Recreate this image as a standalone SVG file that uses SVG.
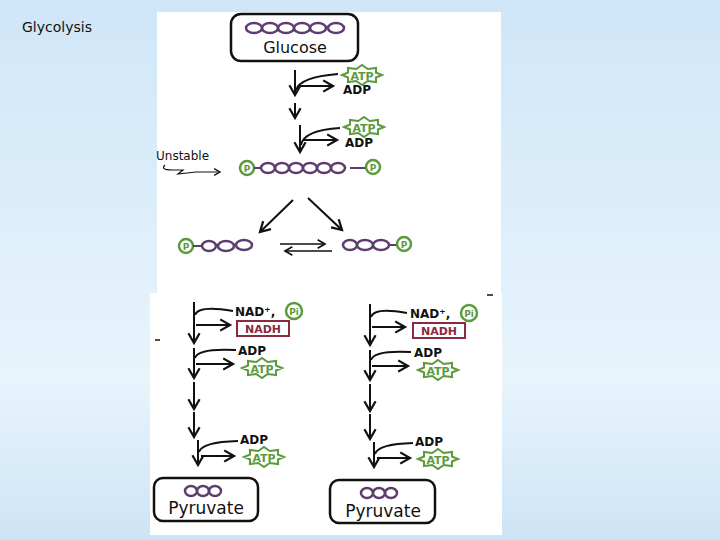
<svg xmlns="http://www.w3.org/2000/svg" width="720" height="540" viewBox="0 0 720 540">
<defs>
<linearGradient id="bg" x1="0" y1="0" x2="0" y2="1">
<stop offset="0" stop-color="#cfe6f8"/><stop offset="0.7" stop-color="#e8f4fc"/><stop offset="1" stop-color="#cde4f6"/>
</linearGradient>
<marker id="ah" viewBox="0 0 10 10" refX="8" refY="5" markerWidth="7" markerHeight="7" orient="auto-start-reverse"><path d="M1,1 L8,5 L1,9" fill="none" stroke="#111" stroke-width="1.6"/></marker>
<g id="atp"><polygon points="20,0 13.9,2.5 14.1,7.1 5.7,6 0,10 -5.7,6 -14.1,7.1 -13.9,2.5 -20,0 -13.9,-2.5 -14.1,-7.1 -5.7,-6 0,-10 5.7,-6 14.1,-7.1 13.9,-2.5" fill="#fff" stroke="#5b9b3c" stroke-width="2"/><text x="0" y="4.5" class="g">ATP</text></g>
<g id="pc"><circle r="7" fill="#fff" stroke="#5b9b3c" stroke-width="2.5"/><text x="0" y="3.5" class="g" style="font-size:9px">P</text></g>
<g id="pi"><circle r="8" fill="#fff" stroke="#5b9b3c" stroke-width="2.5"/><text x="0" y="3.5" class="g" style="font-size:9px">Pi</text></g>
</defs>
<style>
.t{font-family:"DejaVu Sans",sans-serif;font-weight:bold;font-size:12px;fill:#111}
.g{font-family:"DejaVu Sans",sans-serif;font-weight:bold;font-size:11px;fill:#5b9b3c;text-anchor:middle}
.ln{stroke:#111;stroke-width:2;fill:none}
.ar{stroke:#111;stroke-width:2;fill:none;marker-end:url(#ah)}
.e{fill:none;stroke:#5e3c6e;stroke-width:2.5}
.box{fill:#fff;stroke:#111;stroke-width:2.5}
</style>
<rect width="720" height="540" fill="url(#bg)"/>
<text x="22" y="32" style="font-family:'DejaVu Sans',sans-serif;font-size:14px;fill:#111">Glycolysis</text>
<rect x="157" y="12" width="344" height="258" fill="#fff"/>
<rect x="150" y="293" width="352" height="242" fill="#fff"/>
<rect x="157" y="268" width="344" height="27" fill="#fff"/>

<g id="glucose">
<rect x="231" y="14" width="127" height="47" rx="10" class="box"/>
<g class="e"><ellipse cx="254" cy="28" rx="8" ry="5"/><ellipse cx="270" cy="28" rx="8" ry="5"/><ellipse cx="286" cy="28" rx="8" ry="5"/><ellipse cx="302" cy="28" rx="8" ry="5"/><ellipse cx="318" cy="28" rx="8" ry="5"/><ellipse cx="336" cy="28" rx="8" ry="5"/></g>
<text x="295" y="53" class="t" text-anchor="middle" style="font-size:16px;font-weight:normal">Glucose</text>
</g>

<g id="connectors">
<path d="M295,70 V95" class="ar"/>
<path d="M296,90 Q300,77 338,74" class="ln"/><path d="M298,86 H333" class="ar"/>
<path d="M295,103 V118" class="ar"/>
<path d="M300,125 V152" class="ar"/>
<path d="M301,145 Q304,130 340,128" class="ln"/><path d="M303,140 H337" class="ar"/>
<path d="M165,165 Q160,170 172,170 L183,170 L178,174 L196,172 L220,172" class="ar" style="stroke-width:1.2"/>
<path d="M293,200 L260,232" class="ar"/>
<path d="M308,198 L342,230" class="ar"/>
<path d="M280,244 H325" class="ar" style="stroke-width:1.5"/>
<path d="M332,251 H285" class="ar" style="stroke-width:1.5"/>
<path d="M194,302 V343" class="ar"/>
<path d="M195,315 Q198,305 233,311" class="ln"/><path d="M196,325 H230" class="ar"/>
<path d="M194,348 V378" class="ar"/>
<path d="M195,358 Q198,348 236,350" class="ln"/><path d="M196,364 H233" class="ar"/>
<path d="M194,382 V409" class="ar"/>
<path d="M194,412 V437" class="ar"/>
<path d="M198,440 V465" class="ar"/>
<path d="M199,452 Q202,442 238,441" class="ln"/><path d="M201,456 H234" class="ar"/>
<path d="M370,304 V345" class="ar"/>
<path d="M371,317 Q374,307 407,313" class="ln"/><path d="M372,327 H405" class="ar"/>
<path d="M370,350 V380" class="ar"/>
<path d="M371,360 Q374,350 411,352" class="ln"/><path d="M372,366 H408" class="ar"/>
<path d="M370,384 V411" class="ar"/>
<path d="M370,414 V439" class="ar"/>
<path d="M374,442 V467" class="ar"/>
<path d="M375,454 Q378,444 413,443" class="ln"/><path d="M377,458 H410" class="ar"/>
<path d="M155,340 H160 M487,295 H493" class="ln" style="stroke-width:1.5"/>
</g>

<g id="energy-top">
<use href="#atp" x="362" y="75"/><text x="343" y="94" class="t">ADP</text>
<use href="#atp" x="364" y="127"/><text x="345" y="147" class="t">ADP</text>
</g>
<text x="156" y="160" style="font-family:'DejaVu Sans',sans-serif;font-size:12px;fill:#111">Unstable</text>

<g id="fructose-bisphosphate">
<use href="#pc" x="247" y="168"/><path d="M254,168 H262 M350,168 H366" class="ln" style="stroke:#5e3c6e"/>
<g class="e"><ellipse cx="268" cy="168" rx="7" ry="5"/><ellipse cx="282" cy="168" rx="7" ry="5"/><ellipse cx="296" cy="168" rx="7" ry="5"/><ellipse cx="310" cy="168" rx="7" ry="5"/><ellipse cx="324" cy="168" rx="7" ry="5"/><ellipse cx="338" cy="168" rx="7" ry="5"/></g>
<use href="#pc" x="373" y="167"/>
</g>
<g id="g3p-left">
<use href="#pc" x="186" y="246"/><path d="M193,246 H202" class="ln" style="stroke:#5e3c6e"/>
<g class="e"><ellipse cx="209" cy="246" rx="7" ry="5"/><ellipse cx="226" cy="246" rx="8" ry="5"/><ellipse cx="244" cy="245" rx="8" ry="5"/></g>
</g>
<g id="g3p-right">
<g class="e"><ellipse cx="350" cy="245" rx="7" ry="5"/><ellipse cx="365" cy="245" rx="8" ry="5"/><ellipse cx="381" cy="245" rx="8" ry="5"/></g>
<path d="M389,245 H397" class="ln" style="stroke:#5e3c6e"/><use href="#pc" x="404" y="244"/>
</g>

<g id="energy-left">
<text x="235" y="316" class="t">NAD⁺,</text><use href="#pi" x="294" y="311"/>
<rect x="237" y="321" width="52" height="15" fill="#fff" stroke="#8b2a3e" stroke-width="2"/><text x="263" y="333" class="t" text-anchor="middle" style="fill:#8b2a3e;font-size:11px">NADH</text>
<text x="238" y="355" class="t">ADP</text><use href="#atp" x="262" y="368"/>
<text x="240" y="444" class="t">ADP</text><use href="#atp" x="264" y="457"/>
</g>
<g id="energy-right">
<text x="410" y="318" class="t">NAD⁺,</text><use href="#pi" x="469" y="313"/>
<rect x="413" y="323" width="52" height="15" fill="#fff" stroke="#8b2a3e" stroke-width="2"/><text x="439" y="335" class="t" text-anchor="middle" style="fill:#8b2a3e;font-size:11px">NADH</text>
<text x="414" y="357" class="t">ADP</text><use href="#atp" x="438" y="370"/>
<text x="415" y="446" class="t">ADP</text><use href="#atp" x="438" y="459"/>
</g>

<g id="pyruvate-left">
<rect x="154" y="478" width="104" height="43" rx="9" class="box"/>
<g class="e"><ellipse cx="191" cy="491" rx="6" ry="5"/><ellipse cx="203" cy="491" rx="6" ry="5"/><ellipse cx="215" cy="491" rx="6" ry="5"/></g>
<text x="206" y="514" class="t" text-anchor="middle" style="font-size:17px;font-weight:normal">Pyruvate</text>
</g>
<g id="pyruvate-right">
<rect x="330" y="480" width="105" height="43" rx="9" class="box"/>
<g class="e"><ellipse cx="367" cy="493" rx="6" ry="5"/><ellipse cx="379" cy="493" rx="6" ry="5"/><ellipse cx="391" cy="493" rx="6" ry="5"/></g>
<text x="383" y="517" class="t" text-anchor="middle" style="font-size:17px;font-weight:normal">Pyruvate</text>
</g>
</svg>
